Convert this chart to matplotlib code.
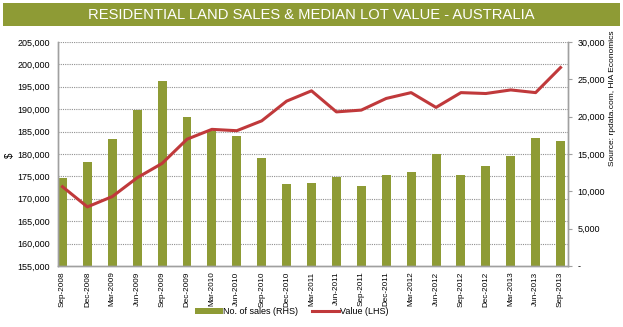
import matplotlib
matplotlib.use("Agg")
import matplotlib.pyplot as plt
from matplotlib.ticker import FuncFormatter, FixedLocator
from matplotlib.patches import Rectangle, Patch
from matplotlib.lines import Line2D

plt.rcParams['font.family'] = ['Liberation Sans', 'DejaVu Sans']

categories = ["Sep-2008", "Dec-2008", "Mar-2009", "Jun-2009", "Sep-2009", "Dec-2009",
              "Mar-2010", "Jun-2010", "Sep-2010", "Dec-2010", "Mar-2011", "Jun-2011",
              "Sep-2011", "Dec-2011", "Mar-2012", "Jun-2012", "Sep-2012", "Dec-2012",
              "Mar-2013", "Jun-2013", "Sep-2013"]
sales = [11800, 13900, 17000, 20900, 24800, 19900, 18100, 17400, 14450, 10950, 11100,
         11950, 10750, 12150, 12600, 15050, 12150, 13450, 14750, 17200, 16750]
value = [172700, 168200, 170500, 174700, 177900, 183300, 185500, 185200, 187400, 191800,
         194100, 189400, 189800, 192400, 193700, 190400, 193700, 193500, 194300, 193700,
         199300]
left_ticks = [155000, 160000, 165000, 170000, 175000, 180000, 185000, 190000, 195000,
              200000, 205000]
right_ticks = [0, 5000, 10000, 15000, 20000, 25000, 30000]

green = "#8e9b35"
red = "#c0393b"
gray = "#a0a0a0"

fig = plt.figure(figsize=(6.23, 3.27), dpi=100)
W, H = 623, 327
fig.patches.append(Rectangle((3 / W, 1 - 26 / H), 617 / W, 23 / H, transform=fig.transFigure,
                             facecolor=green, edgecolor="none"))
fig.text(311.5 / W, 1 - 15 / H, "RESIDENTIAL LAND SALES & MEDIAN LOT VALUE - AUSTRALIA",
         color="white", fontsize=10.6, ha="center", va="center")

ax = fig.add_axes([58 / W, 1 - 266 / H, 510 / W, 224 / H])
ax2 = ax.twinx()

x = list(range(len(categories)))
ax2.bar(x, sales, width=0.36, color=green, zorder=2)
ax.plot(x, value, color=red, lw=2.2, zorder=3)

ax.set_zorder(ax2.get_zorder() + 1)
ax.patch.set_visible(False)

ax.set_xlim(-0.18, 20.3)
ax.set_ylim(155000, 205000)
ax2.set_ylim(0, 30000)
ax.yaxis.set_major_locator(FixedLocator(left_ticks))
ax2.yaxis.set_major_locator(FixedLocator(right_ticks))
ax.yaxis.set_major_formatter(FuncFormatter(lambda v, p: f"{int(v):,}"))
ax2.yaxis.set_major_formatter(FuncFormatter(lambda v, p: "-" if v == 0 else f"{int(v):,}"))

for t in left_ticks[1:]:
    ax2.axhline((t - 155000) / 50000 * 30000, color="#909090", lw=0.8,
                ls=(0, (1, 1)), zorder=1)

ax.set_xticks(x)
ax.set_xticklabels(categories, rotation=90, fontsize=5.9)
ax.tick_params(axis="x", length=0, pad=4)
ax.tick_params(axis="y", length=0, labelsize=6.5, pad=6)
ax2.tick_params(axis="y", length=3, labelsize=6.5, color=gray, pad=4)

for a in (ax, ax2):
    a.spines["top"].set_visible(False)
    for s in ("left", "right", "bottom"):
        a.spines[s].set_color(gray)
        a.spines[s].set_linewidth(1)

fig.text(10 / W, 1 - 155 / H, "$", rotation=90, fontsize=7, ha="center", va="center")
fig.text(612 / W, 1 - 98 / H, "Source: rpdata.com, HIA Economics", rotation=90,
         fontsize=6, ha="center", va="center")

handles = [Patch(facecolor=green, edgecolor="none", label="No. of sales (RHS)"),
           Line2D([0], [0], color=red, lw=2.2, label="Value (LHS)")]
fig.legend(handles=handles, loc="center", bbox_to_anchor=(292 / W, 1 - 312 / H), ncol=2,
           frameon=False, fontsize=6.5, handlelength=3.0, handleheight=0.6,
           handletextpad=0.1, columnspacing=1.5)

fig.savefig("out.png", dpi=100)
